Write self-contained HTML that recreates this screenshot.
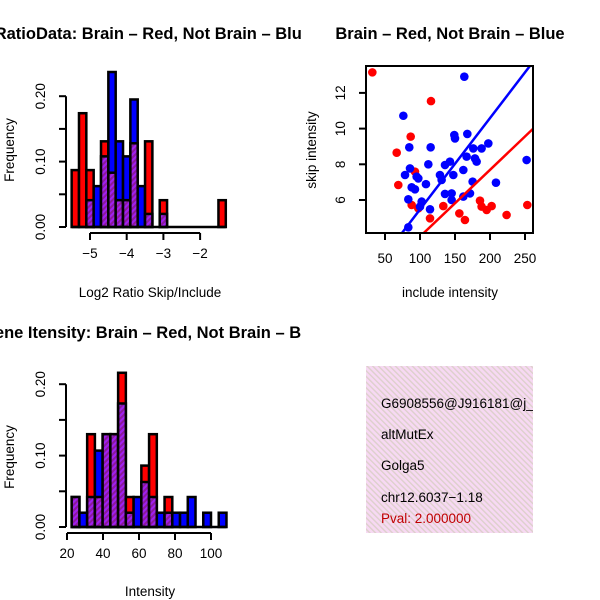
<!DOCTYPE html>
<html><head><meta charset="utf-8"><style>
html,body{margin:0;padding:0;background:#fff;}
svg{display:block;font-family:"Liberation Sans",Arial,sans-serif;}
</style></head><body>
<svg id="c" width="600" height="600" viewBox="0 0 600 600">
<defs>
<pattern id="hatch" width="4" height="4" patternUnits="userSpaceOnUse" patternTransform="rotate(45)">
<rect width="4" height="4" fill="#a020f0"/><rect width="2" height="4" fill="#8b1a9b"/>
</pattern>
<pattern id="pink" width="4" height="4" patternUnits="userSpaceOnUse" patternTransform="rotate(-45)">
<rect width="4" height="4" fill="#f7d9f3"/><rect width="1.4" height="4" fill="#ddd0cc"/>
</pattern>
<clipPath id="clipL"><rect x="0" y="0" width="302" height="600"/></clipPath>
<clipPath id="clipS"><rect x="366" y="66" width="167" height="167"/></clipPath>
<clipPath id="clipB"><rect x="366" y="366" width="167" height="167"/></clipPath>
</defs>
<g id="tl"></g>
<g id="bl"></g>
<g id="tr"></g>
<g clip-path="url(#clipB)">
<rect x="366" y="366" width="167" height="167" fill="url(#pink)"/>
<text x="381" y="408" font-size="13.5">G6908556@J916181@j_</text>
<text x="381" y="439" font-size="13.5">altMutEx</text>
<text x="381" y="470" font-size="13.5">Golga5</text>
<text x="381" y="502" font-size="13.5">chr12.6037−1.18</text>
<text x="381" y="523" font-size="13.5" fill="#c00000">Pval: 2.000000</text>
</g>
</svg>
<script>
// ---- top-left histogram data (Log2 ratio) ----
const ratioBinStart = -5.5;
const ratioBinWidth = 0.2;
const ratioRed  = [0.087,0.174,0.087,0,0.131,0.083,0.041,0.041,0.128,0,0.131,0,0.041,0,0,0,0,0,0,0,0.041];
const ratioBlue = [0,0,0.041,0.0625,0.108,0.237,0.131,0.108,0.195,0.0625,0.02,0,0.02,0,0,0,0,0,0,0,0];
const ratioXTicks = [-5,-4,-3,-2];
const ratioYTicks = [0,0.10,0.20];
// ---- bottom-left histogram data (Intensity) ----
const intBinStart = 22.6;
const intBinWidth = 4.3;
const intRed  = [0.042,0,0.13,0.042,0.13,0.13,0.216,0.042,0,0.086,0.13,0,0.042,0,0,0,0,0,0,0];
const intBlue = [0.042,0.02,0.042,0.107,0.13,0.13,0.173,0.02,0.042,0.063,0.042,0.02,0.02,0.02,0.02,0.042,0,0.02,0,0.02];
const intXTicks = [20,40,60,80,100];
const intYTicks = [0,0.10,0.20];
// ---- scatter data ----
const redX = [31.9,115.7,86.7,66.7,69.0,92.8,88.1,133.3,114.3,156.2,164.2,185.7,188.0,195.2,202.3,223.7,253.3,97.6];
const redY = [13.15,11.54,9.55,8.65,6.84,7.59,5.72,5.66,4.97,5.25,4.88,5.96,5.63,5.44,5.66,5.16,5.72,5.53];
const blueX = [163.3,76.2,149.0,150.0,167.6,84.7,115.2,197.6,176.1,188.0,111.9,135.7,142.8,166.6,178.5,180.9,161.9,85.7,78.6,95.2,97.6,128.5,147.6,130.9,108.5,88.1,92.8,175.2,208.5,252.3,83.3,135.7,145.2,145.2,161.9,171.4,102.4,100.0,114.3,83.3];
const blueY = [12.91,10.72,9.64,9.45,9.70,8.95,8.95,9.17,8.89,8.89,8.0,7.96,8.15,8.43,8.33,8.15,7.68,7.77,7.40,7.31,7.21,7.40,7.40,7.12,6.89,6.71,6.60,7.03,6.97,8.24,6.04,6.34,6.37,6.0,6.19,6.37,5.91,5.63,5.48,4.47];
const redFit = [0.21,0.0374];   // intercept, slope
const blueFit = [0.35,0.0512];
const scatXTicks = [50,100,150,200,250];
const scatYTicks = [6,8,10,12];

const NS="http://www.w3.org/2000/svg";
function mk(parent,tag,attrs,txt){const e=document.createElementNS(NS,tag);for(const k in attrs)e.setAttribute(k,attrs[k]);if(txt!==undefined)e.textContent=txt;parent.appendChild(e);return e;}

function hist(g,cfg){
  const sx=v=>cfg.x0+(v-cfg.xv0)*cfg.xk;
  const sy=v=>cfg.base-v*cfg.yk;
  const n=cfg.red.length;
  const left=sx(cfg.start), right=sx(cfg.start+n*cfg.width);
  for(let i=0;i<n;i++){
    const a=sx(cfg.start+i*cfg.width), b=sx(cfg.start+(i+1)*cfg.width);
    const r=cfg.red[i], bl=cfg.blue[i];
    const hi=Math.max(r,bl), lo=Math.min(r,bl);
    if(hi>0){
      const e=mk(g,'rect',{x:a,y:sy(hi),width:b-a,height:sy(0)-sy(hi),fill:r>=bl?'#ff0000':'#0000ff',stroke:'#000','stroke-width':2.5});
      
      
    }
    if(lo>0){
      const e=mk(g,'rect',{x:a,y:sy(lo),width:b-a,height:sy(0)-sy(lo),fill:'url(#hatch)',stroke:'#000','stroke-width':2.5});
      
      
    }
  }
  const bl=mk(g,'line',{x1:left,x2:right,y1:sy(0),y2:sy(0),stroke:'#000','stroke-width':2.5});
  
  
  const yt=cfg.yticks;
  const ya=mk(g,'line',{x1:66,x2:66,y1:sy(yt[yt.length-1]),y2:sy(yt[0]),stroke:'#000','stroke-width':2});
  
  
  for(let t=yt[0];t<=yt[yt.length-1]+1e-9;t+=0.05){
    mk(g,'line',{x1:59,x2:66,y1:sy(t),y2:sy(t),stroke:'#000','stroke-width':2});
  }
  yt.forEach(t=>{
    const e=mk(g,'text',{x:45,y:sy(t),'font-size':13.5,'text-anchor':'middle',transform:`rotate(-90 45 ${sy(t)})`},t.toFixed(2));
    
    
  });
  const xt=cfg.xticks, ay=cfg.base+6;
  const xa=mk(g,'line',{x1:sx(xt[0]),x2:sx(xt[xt.length-1]),y1:ay,y2:ay,stroke:'#000','stroke-width':2});
  
  
  xt.forEach(t=>{
    mk(g,'line',{x1:sx(t),x2:sx(t),y1:ay,y2:ay+7,stroke:'#000','stroke-width':2});
    const e=mk(g,'text',{x:sx(t),y:ay+25,'font-size':13.5,'text-anchor':'middle'},t<0?'−'+Math.abs(t):String(t));
    
    
  });
  const xl=mk(g,'text',{x:150,y:cfg.xlabY,'font-size':13.5,'text-anchor':'middle'},cfg.xlab);
  
  
  const yl=mk(g,'text',{x:14,y:cfg.ylabY,'font-size':13.5,'text-anchor':'middle',transform:`rotate(-90 14 ${cfg.ylabY})`},'Frequency');
  
  
  const ti=mk(g,'text',{x:cfg.titleX,y:cfg.titleY,'font-size':16.5,'font-weight':'bold','text-anchor':'end','clip-path':'url(#clipL)'},cfg.title);
  
  
}

hist(document.getElementById('tl'),{start:ratioBinStart,width:ratioBinWidth,red:ratioRed,blue:ratioBlue,
  x0:90,xv0:-5,xk:36.7,base:227,yk:654,xticks:ratioXTicks,yticks:ratioYTicks,
  xlab:'Log2 Ratio Skip/Include',xlabY:297,ylabY:150,title:'RatioData: Brain – Red, Not Brain – Blue',titleX:311,titleY:39});
hist(document.getElementById('bl'),{start:intBinStart,width:intBinWidth,red:intRed,blue:intBlue,
  x0:67,xv0:20,xk:1.8,base:527,yk:714,xticks:intXTicks,yticks:intYTicks,
  xlab:'Intensity',xlabY:596,ylabY:457,title:'Gene Itensity: Brain – Red, Not Brain – Blue',titleX:325,titleY:338});

(function(){
  const g=document.getElementById('tr');
  const sx=v=>385+(v-50)*0.7;
  const sy=v=>200-(v-6)*17.85;
  const pts=mk(g,'g',{'clip-path':'url(#clipS)'});
  
  
  redX.forEach((x,i)=>{
    const c=mk(pts,'circle',{cx:sx(x),cy:sy(redY[i]),r:4.3,fill:'#ff0000'});
    
    
  });
  blueX.forEach((x,i)=>{
    const c=mk(pts,'circle',{cx:sx(x),cy:sy(blueY[i]),r:4.3,fill:'#0000ff'});
    
    
  });
  [[blueFit,'#0000ff','fit-line-not-brain'],[redFit,'#ff0000','fit-line-brain']].forEach(([f,col,nm])=>{
    const x1=0,x2=300;
    const l=mk(pts,'line',{x1:sx(x1),y1:sy(f[0]+f[1]*x1),x2:sx(x2),y2:sy(f[0]+f[1]*x2),stroke:col,'stroke-width':2.5});
    
    
  });
  const box=mk(g,'rect',{x:366,y:66,width:167,height:167,fill:'none',stroke:'#000','stroke-width':2});
  
  
  scatXTicks.forEach(t=>{
    mk(g,'line',{x1:sx(t),x2:sx(t),y1:233,y2:240,stroke:'#000','stroke-width':2});
    const e=mk(g,'text',{x:sx(t),y:263,'font-size':13.5,'text-anchor':'middle'},String(t));
    
    
  });
  scatYTicks.forEach(t=>{
    mk(g,'line',{x1:359,x2:366,y1:sy(t),y2:sy(t),stroke:'#000','stroke-width':2});
    const e=mk(g,'text',{x:345,y:sy(t),'font-size':13.5,'text-anchor':'middle',transform:`rotate(-90 345 ${sy(t)})`},String(t));
    
    
  });
  const xl=mk(g,'text',{x:450,y:297,'font-size':13.5,'text-anchor':'middle'},'include intensity');
  
  
  const yl=mk(g,'text',{x:316,y:150,'font-size':13.5,'text-anchor':'middle',transform:'rotate(-90 316 150)'},'skip intensity');
  
  
  const ti=mk(g,'text',{x:450,y:39,'font-size':16.5,'font-weight':'bold','text-anchor':'middle'},'Brain – Red, Not Brain – Blue');
  
  
})();
</script>
</body></html>
